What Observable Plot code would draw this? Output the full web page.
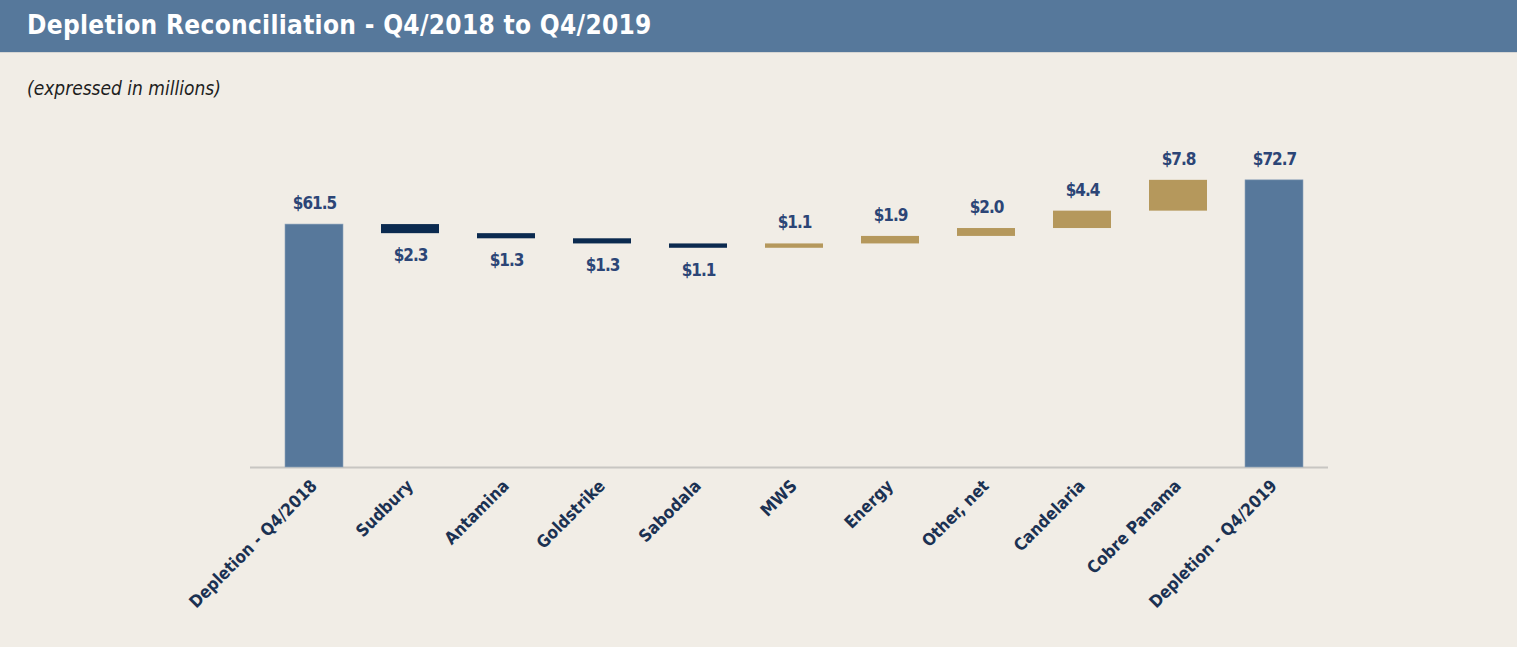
<!DOCTYPE html>
<html>
<head>
<meta charset="utf-8">
<script src="https://cdn.jsdelivr.net/npm/d3@7"></script>
<script src="https://cdn.jsdelivr.net/npm/@observablehq/plot@0.6"></script>
<style>
  html, body { margin: 0; padding: 0; background: #f1ede6; }
  body { width: 1517px; height: 647px; overflow: hidden; position: relative;
         font-family: "DejaVu Sans Condensed", "Liberation Sans Narrow", sans-serif; }
  #titlebar { position: absolute; left: 0; top: 0; width: 1517px; height: 53px; background: #56789b;
              border-bottom: 1px solid #d6d6d4; box-sizing: border-box; }
  #title { position: absolute; left: 27px; top: 10px; color: #fff; font-weight: bold; font-size: 26px;
           letter-spacing: 0.3px; white-space: nowrap; }
  #subtitle { position: absolute; left: 27px; top: 77px; color: #1e1e1e; font-style: italic; font-size: 19px; }
  #chart { position: absolute; left: 0; top: 52px; }
</style>
</head>
<body>
<div id="titlebar"><div id="title">Depletion Reconciliation - Q4/2018 to Q4/2019</div></div>
<div id="subtitle">(expressed in millions)</div>
<div id="chart"></div>
<script>
const categories = ["Depletion - Q4/2018", "Sudbury", "Antamina", "Goldstrike", "Sabodala", "MWS", "Energy", "Other, net", "Candelaria", "Cobre Panama", "Depletion - Q4/2019"];
const values = [61.5, -2.3, -1.3, -1.3, -1.1, 1.1, 1.9, 2.0, 4.4, 7.8, 72.7];
const kinds = ["total", "decrease", "decrease", "decrease", "decrease", "increase", "increase", "increase", "increase", "increase", "total"];
const labels = ["$61.5", "$2.3", "$1.3", "$1.3", "$1.1", "$1.1", "$1.9", "$2.0", "$4.4", "$7.8", "$72.7"];

let running = 0;
const data = categories.map((name, i) => {
  let y1, y2;
  if (kinds[i] === "total") { y1 = 0; y2 = values[i]; running = values[i]; }
  else { y1 = running; y2 = running + values[i]; running = y2; }
  return { name, kind: kinds[i], label: labels[i], y1, y2, top: Math.max(y1, y2), bottom: Math.min(y1, y2) };
});

const colors = { total: "#57789b", decrease: "#0b2a4f", increase: "#b5985c" };
const font = '"DejaVu Sans Condensed", "Liberation Sans Narrow", sans-serif';
const valueStyle = { fill: "#2c4576", fontSize: 17, fontWeight: "bold", lineAnchor: "middle" };

const chart = Plot.plot({
  width: 1517,
  height: 595,
  marginLeft: 264,
  marginRight: 194,
  marginTop: 99,
  marginBottom: 180,
  style: { background: "transparent", fontFamily: font },
  x: { type: "band", domain: categories, paddingInner: 0.4, paddingOuter: 0.2, axis: null },
  y: { domain: [0, 80], axis: null },
  marks: [
    Plot.ruleY([0], { stroke: "#c8c6c2", strokeWidth: 2, insetLeft: -14, insetRight: -5 }),
    Plot.barY(data, { x: "name", y1: "y1", y2: "y2", fill: d => colors[d.kind], stroke: d => d.kind === "total" ? "#8ea3bb" : "none", strokeWidth: 0.6 }),
    Plot.text(data.filter(d => d.kind !== "decrease"), { x: "name", y: "top", text: "label", dy: -21, ...valueStyle, className: "vlabel" }),
    Plot.text(data.filter(d => d.kind === "decrease"), { x: "name", y: "bottom", text: "label", dy: 22, ...valueStyle, className: "vlabel" }),
    Plot.text(categories, { x: d => d, y: () => 0, text: d => d, rotate: -45, textAnchor: "end", lineAnchor: "top", dx: -5, dy: 11, fill: "#1b3152", fontSize: 17, fontWeight: "bold" })
  ]
});
d3.select(chart).selectAll(".vlabel text").style("letter-spacing", "-1px");
document.getElementById("chart").appendChild(chart);
</script>
</body>
</html>
